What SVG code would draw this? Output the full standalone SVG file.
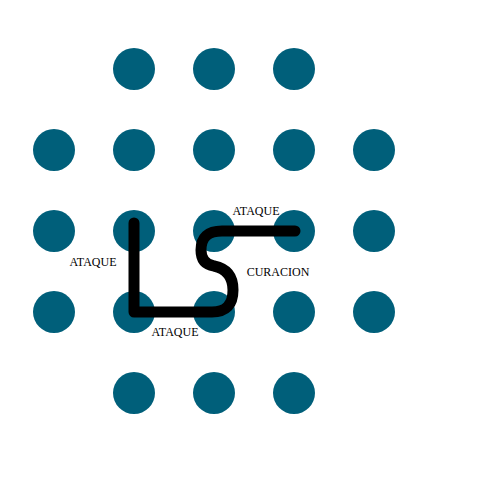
<svg xmlns="http://www.w3.org/2000/svg" width="480" height="480" viewBox="0 0 480 480">
<style>
.n{fill:#005f7a}
.l{font-family:"Liberation Serif",serif;font-size:12px;fill:#000;text-anchor:middle}
</style>
<rect width="480" height="480" fill="#fff"/>
<g id="nodes">
<g id="n1"><circle class="n" cx="134" cy="69" r="21"/></g>
<g id="n2"><circle class="n" cx="214" cy="69" r="21"/></g>
<g id="n3"><circle class="n" cx="294" cy="69" r="21"/></g>
<g id="n4"><circle class="n" cx="54" cy="150" r="21"/></g>
<g id="n5"><circle class="n" cx="134" cy="150" r="21"/></g>
<g id="n6"><circle class="n" cx="214" cy="150" r="21"/></g>
<g id="n7"><circle class="n" cx="294" cy="150" r="21"/></g>
<g id="n8"><circle class="n" cx="374" cy="150" r="21"/></g>
<g id="n9"><circle class="n" cx="54" cy="231" r="21"/></g>
<g id="n10"><circle class="n" cx="134" cy="231" r="21"/></g>
<g id="n11"><circle class="n" cx="214" cy="231" r="21"/></g>
<g id="n12"><circle class="n" cx="294" cy="231" r="21"/></g>
<g id="n13"><circle class="n" cx="374" cy="231" r="21"/></g>
<g id="n14"><circle class="n" cx="54" cy="312" r="21"/></g>
<g id="n15"><circle class="n" cx="134" cy="312" r="21"/></g>
<g id="n16"><circle class="n" cx="214" cy="312" r="21"/></g>
<g id="n17"><circle class="n" cx="294" cy="312" r="21"/></g>
<g id="n18"><circle class="n" cx="374" cy="312" r="21"/></g>
<g id="n19"><circle class="n" cx="134" cy="393" r="21"/></g>
<g id="n20"><circle class="n" cx="214" cy="393" r="21"/></g>
<g id="n21"><circle class="n" cx="294" cy="393" r="21"/></g>
</g>
<g id="connectors">
<path d="M134,223 V312 H212 Q233,312 233,290 Q233,270 214,266 Q201,264 201,250 Q201,231 222,231 H295" fill="none" stroke="#000" stroke-width="11" stroke-linecap="round" stroke-linejoin="round"/>
</g>
<g id="labels">
<text class="l" x="256" y="215">ATAQUE</text>
<text class="l" x="93" y="266">ATAQUE</text>
<text class="l" x="278" y="276">CURACION</text>
<text class="l" x="175" y="336">ATAQUE</text>
</g>
</svg>
